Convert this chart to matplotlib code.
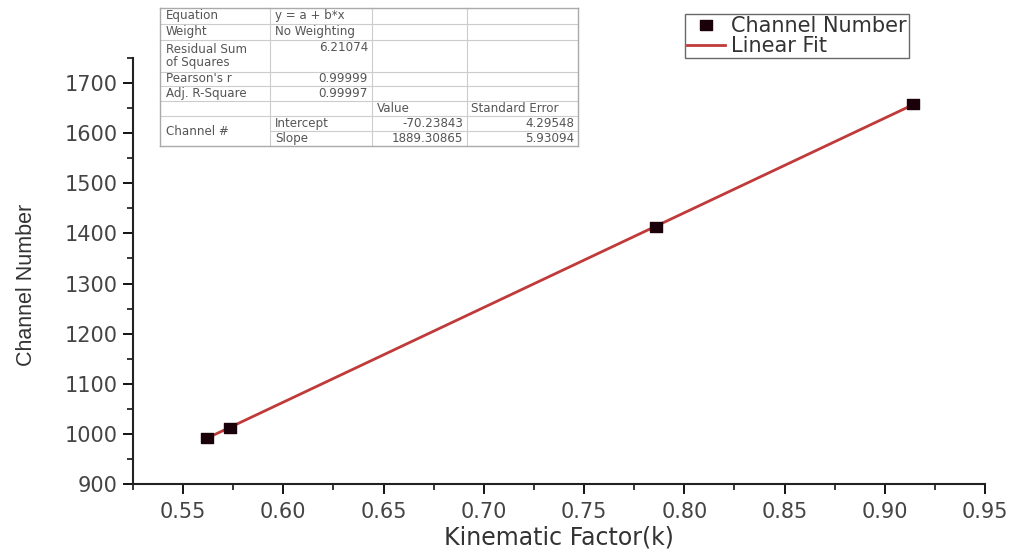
import matplotlib
matplotlib.use("Agg")
import matplotlib.pyplot as plt
from matplotlib.lines import Line2D
from matplotlib.ticker import MultipleLocator, FormatStrFormatter
import numpy as np

# data
kin_factor = [0.562, 0.5734, 0.786, 0.914]
channel_no = [991, 1011, 1413, 1658]

intercept = -70.23843
slope = 1889.30865

# fit report table (label, value) rows
fit_rows = [("Equation", "y = a + b*x"),
            ("Weight", "No Weighting"),
            ("Residual Sum\nof Squares", "6.21074"),
            ("Pearson's r", "0.99999"),
            ("Adj. R-Square", "0.99997")]
param_header = ["Value", "Standard Error"]
param_names = ["Intercept", "Slope"]
param_values = ["-70.23843", "1889.30865"]
param_errors = ["4.29548", "5.93094"]

W, H = 1015, 552
fig = plt.figure(figsize=(W / 100, H / 100), dpi=100)
ax = fig.add_axes([133 / W, 1 - 484 / H, (985 - 133) / W, (484 - 58) / H])

fit_color = '#c03a3a'
box = [(-1.3, -1), (1.3, -1), (1.3, 1), (-1.3, 1), (-1.3, -1)]

xs = np.array([min(kin_factor), max(kin_factor)])
ax.plot(xs, intercept + slope * xs, '-', color=fit_color, lw=2, zorder=2, label='Linear Fit')
ax.plot(kin_factor, channel_no, linestyle='none', marker=box, markersize=9,
        color='#1a0008', zorder=3, label='Channel Number')

ax.set_xlim(0.525, 0.95)
ax.set_ylim(900, 1750)
ax.xaxis.set_major_locator(MultipleLocator(0.05))
ax.xaxis.set_minor_locator(MultipleLocator(0.025))
ax.xaxis.set_major_formatter(FormatStrFormatter('%.2f'))
ax.yaxis.set_minor_locator(MultipleLocator(50))
ax.set_yticks(np.arange(900, 1701, 100))

for s in ['top', 'right']:
    ax.spines[s].set_visible(False)
for s in ['left', 'bottom']:
    ax.spines[s].set_linewidth(1.5)
    ax.spines[s].set_color('#222222')

ax.tick_params(which='major', length=7, width=1.3, labelsize=15, labelcolor='#444444', pad=4)
ax.tick_params(which='minor', length=4, width=1.1)
ax.tick_params(axis='x', which='major', pad=6)

# axis titles placed in figure pixels
fig.text(559 / W, 1 - 537 / H, 'Kinematic Factor(k)', ha='center', va='center',
         fontsize=17, color='#333333')
fig.text(27 / W, 1 - 285 / H, 'Channel Number', rotation=90, ha='center', va='center',
         fontsize=15.5, color='#333333', family=['Liberation Sans Narrow', 'Liberation Sans'])

handles, labels = ax.get_legend_handles_labels()
leg = ax.legend(handles[::-1], labels[::-1], loc='upper left', bbox_to_anchor=(685 / W, 1 - 14 / H),
                bbox_transform=fig.transFigure, fontsize=15, frameon=True, fancybox=False,
                edgecolor='#444444', borderpad=0.1, handlelength=1.8, handletextpad=0.3,
                labelspacing=0.0, borderaxespad=0)
for t in leg.get_texts():
    t.set_color('#333333')

# fit report table in pixel coordinates
def fx(px):
    return px / W

def fy(py):
    return 1 - py / H

def hline(x0, x1, y, c='#cccccc', lw=0.8):
    fig.add_artist(Line2D([fx(x0), fx(x1)], [fy(y), fy(y)], color=c, lw=lw))

def vline(x, y0, y1, c='#cccccc', lw=0.8):
    fig.add_artist(Line2D([fx(x), fx(x)], [fy(y0), fy(y1)], color=c, lw=lw))

cols = [160, 270, 372, 467, 578]
rows = [8, 24, 40, 72, 86, 101, 116, 131, 146]
tcol = '#555555'
tfs = 8.6
tfam = 'DejaVu Sans'

for y in rows[1:-1]:
    if y == 131:
        hline(cols[1], cols[4], y)
    else:
        hline(cols[0], cols[4], y)
for x in cols[1:-1]:
    vline(x, rows[0], rows[-1])
hline(cols[0], cols[4], rows[0], c='#aaaaaa', lw=1.0)
hline(cols[0], cols[4], rows[-1], c='#aaaaaa', lw=1.0)
vline(cols[0], rows[0], rows[-1], c='#aaaaaa', lw=1.0)
vline(cols[4], rows[0], rows[-1], c='#aaaaaa', lw=1.0)

for i, (lab, val) in enumerate(fit_rows):
    yc = (rows[i] + rows[i + 1]) / 2
    fig.text(fx(cols[0] + 6), fy(yc), lab, ha='left', va='center', fontsize=tfs,
             color=tcol, family=tfam, linespacing=1.05)
    if i < 2:
        fig.text(fx(cols[1] + 5), fy(yc), val, ha='left', va='center', fontsize=tfs, color=tcol, family=tfam)
    else:
        yv = rows[i] + 8 if i == 2 else yc
        fig.text(fx(cols[2] - 4), fy(yv), val, ha='right', va='center', fontsize=tfs, color=tcol, family=tfam)

yh = (rows[5] + rows[6]) / 2
fig.text(fx(cols[2] + 5), fy(yh), param_header[0], ha='left', va='center', fontsize=tfs, color=tcol, family=tfam)
fig.text(fx(cols[3] + 4), fy(yh), param_header[1], ha='left', va='center', fontsize=tfs, color=tcol, family=tfam)
fig.text(fx(cols[0] + 6), fy((rows[6] + rows[8]) / 2), 'Channel #', ha='left', va='center',
         fontsize=tfs, color=tcol, family=tfam)
for j in range(2):
    yc = (rows[6 + j] + rows[7 + j]) / 2
    fig.text(fx(cols[1] + 5), fy(yc), param_names[j], ha='left', va='center', fontsize=tfs, color=tcol, family=tfam)
    fig.text(fx(cols[3] - 4), fy(yc), param_values[j], ha='right', va='center', fontsize=tfs, color=tcol, family=tfam)
    fig.text(fx(cols[4] - 4), fy(yc), param_errors[j], ha='right', va='center', fontsize=tfs, color=tcol, family=tfam)

fig.savefig('out.png', dpi=100)
